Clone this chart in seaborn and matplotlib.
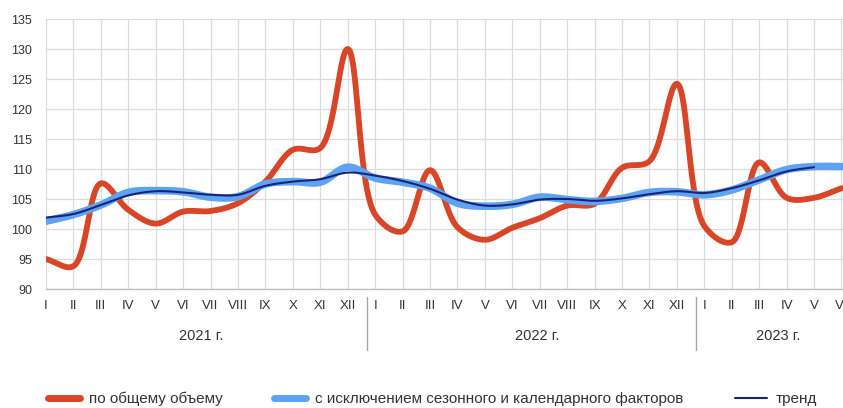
import numpy as np
import pandas as pd
import matplotlib
matplotlib.use("Agg")
import matplotlib.pyplot as plt
from matplotlib.lines import Line2D
import seaborn as sns

# Monthly index values, Jan 2021 – Jun 2023
months = ["I", "II", "III", "IV", "V", "VI", "VII", "VIII", "IX", "X", "XI", "XII"]
month_labels = months + months + months[:6]
years = ["2021 г.", "2022 г.", "2023 г."]

total_volume = [95.0, 93.8, 107.6, 103.2, 100.9, 102.9, 103.0, 104.3, 107.9, 113.2, 113.5, 130.0,
                102.4, 99.6, 109.8, 100.3, 98.2, 100.2, 101.8, 103.9, 104.2, 110.2, 111.3, 124.2,
                100.5, 97.8, 111.1, 105.2, 105.2, 106.8]
seasonally_adj = [101.3, 102.4, 104.0, 106.1, 106.4, 106.2, 105.3, 105.4, 107.5, 107.9, 107.8, 110.3,
                  108.5, 107.8, 106.8, 104.3, 103.8, 104.1, 105.3, 104.9, 104.6, 105.1, 106.1, 106.2,
                  105.7, 106.5, 108.2, 109.9, 110.4, 110.4]
trend = [101.9, 102.5, 104.0, 105.6, 106.3, 106.1, 105.7, 105.7, 107.2, 107.9, 108.3, 109.4,
         108.9, 108.0, 106.7, 104.9, 103.9, 104.1, 104.9, 105.0, 104.7, 105.1, 105.8, 106.3,
         106.0, 106.8, 108.1, 109.6, 110.3]

labels = ["по общему объему", "с исключением сезонного и календарного факторов", "тренд"]
colors = ["#D84527", "#5CA4F3", "#1C2375"]

# drawing scale of one month and one index point (used to parametrise the spline)
X_SCALE, Y_SCALE = 27.4, 6.0


def smooth(y, n=30, alpha=0.5):
    """Centripetal Catmull-Rom curve through the monthly points."""
    y = np.asarray(y, float)
    x = np.arange(len(y), dtype=float)
    P = np.column_stack([x * X_SCALE, y * Y_SCALE])
    P = np.vstack([2 * P[0] - P[1], P, 2 * P[-1] - P[-2]])
    out = []
    for i in range(1, len(P) - 2):
        p0, p1, p2, p3 = P[i - 1], P[i], P[i + 1], P[i + 2]
        t0 = 0.0
        t1 = t0 + np.linalg.norm(p1 - p0) ** alpha
        t2 = t1 + np.linalg.norm(p2 - p1) ** alpha
        t3 = t2 + np.linalg.norm(p3 - p2) ** alpha
        t = np.linspace(t1, t2, n, endpoint=False)[:, None]
        a1 = (t1 - t) / (t1 - t0) * p0 + (t - t0) / (t1 - t0) * p1
        a2 = (t2 - t) / (t2 - t1) * p1 + (t - t1) / (t2 - t1) * p2
        a3 = (t3 - t) / (t3 - t2) * p2 + (t - t2) / (t3 - t2) * p3
        b1 = (t2 - t) / (t2 - t0) * a1 + (t - t0) / (t2 - t0) * a2
        b2 = (t3 - t) / (t3 - t1) * a2 + (t - t1) / (t3 - t1) * a3
        c = (t2 - t) / (t2 - t1) * b1 + (t - t1) / (t2 - t1) * b2
        out.append(c)
    out.append(P[-2][None, :])
    arr = np.vstack(out)
    return pd.DataFrame({"x": arr[:, 0] / X_SCALE, "y": arr[:, 1] / Y_SCALE})


sns.set_theme(style="white")
plt.rcParams["font.family"] = ["Liberation Sans", "DejaVu Sans"]

fig = plt.figure(figsize=(8.43, 4.08), dpi=100)
ax = fig.add_axes([46 / 843, 1 - 289 / 408, 1 - 46 / 843, 270 / 408])

for series, col, lw, z in [(total_volume, colors[0], 4.2, 3),
                           (seasonally_adj, colors[1], 5.5, 4),
                           (trend, colors[2], 1.5, 5)]:
    df = smooth(series)
    sns.lineplot(data=df, x="x", y="y", ax=ax, color=col, linewidth=lw, sort=False,
                 estimator=None, zorder=z, solid_capstyle="round")

ax.set_ylim(90, 135)
ax.set_yticks(np.arange(90, 136, 5))
ax.set_xlim(0, 797 / 27.43)
ax.set_xticks(np.arange(len(month_labels)))
ax.set_xticklabels(month_labels)
ax.set_xlabel("")
ax.set_ylabel("")
ax.grid(True, color="#DCDCDC", linewidth=0.9)
ax.set_axisbelow(True)
for s in ["top", "right", "left"]:
    ax.spines[s].set_visible(False)
ax.spines["bottom"].set_color("#BFBFBF")
ax.spines["bottom"].set_linewidth(1.0)
ax.tick_params(axis="both", length=0, labelsize=9, colors="#333333")
ax.tick_params(axis="x", pad=8, labelsize=9.5)
ax.tick_params(axis="y", pad=10)

# Year separators and year captions under the month labels
trans = ax.get_xaxis_transform()
for xs in [11.7, 23.7]:
    ax.add_line(Line2D([xs, xs], [-0.03, -0.225], transform=trans, color="#A6A6A6",
                       linewidth=1.0, clip_on=False))
for xc, yr in zip([5.66, 17.9, 26.7], years):
    ax.text(xc, -0.175, yr, transform=trans, ha="center", va="center", fontsize=10.5,
            color="#333333")

handles = [Line2D([], [], color=colors[0], linewidth=5, solid_capstyle="round"),
           Line2D([], [], color=colors[1], linewidth=5, solid_capstyle="round"),
           Line2D([], [], color=colors[2], linewidth=1.5)]
fig.legend(handles, labels, loc="center", bbox_to_anchor=(0.513, 1 - 399 / 408), ncol=3,
           frameon=False, handlelength=2.1, handletextpad=0.6, columnspacing=3.35,
           prop={"size": 11}, labelcolor="#333333")

fig.savefig("out.png", dpi=100)
